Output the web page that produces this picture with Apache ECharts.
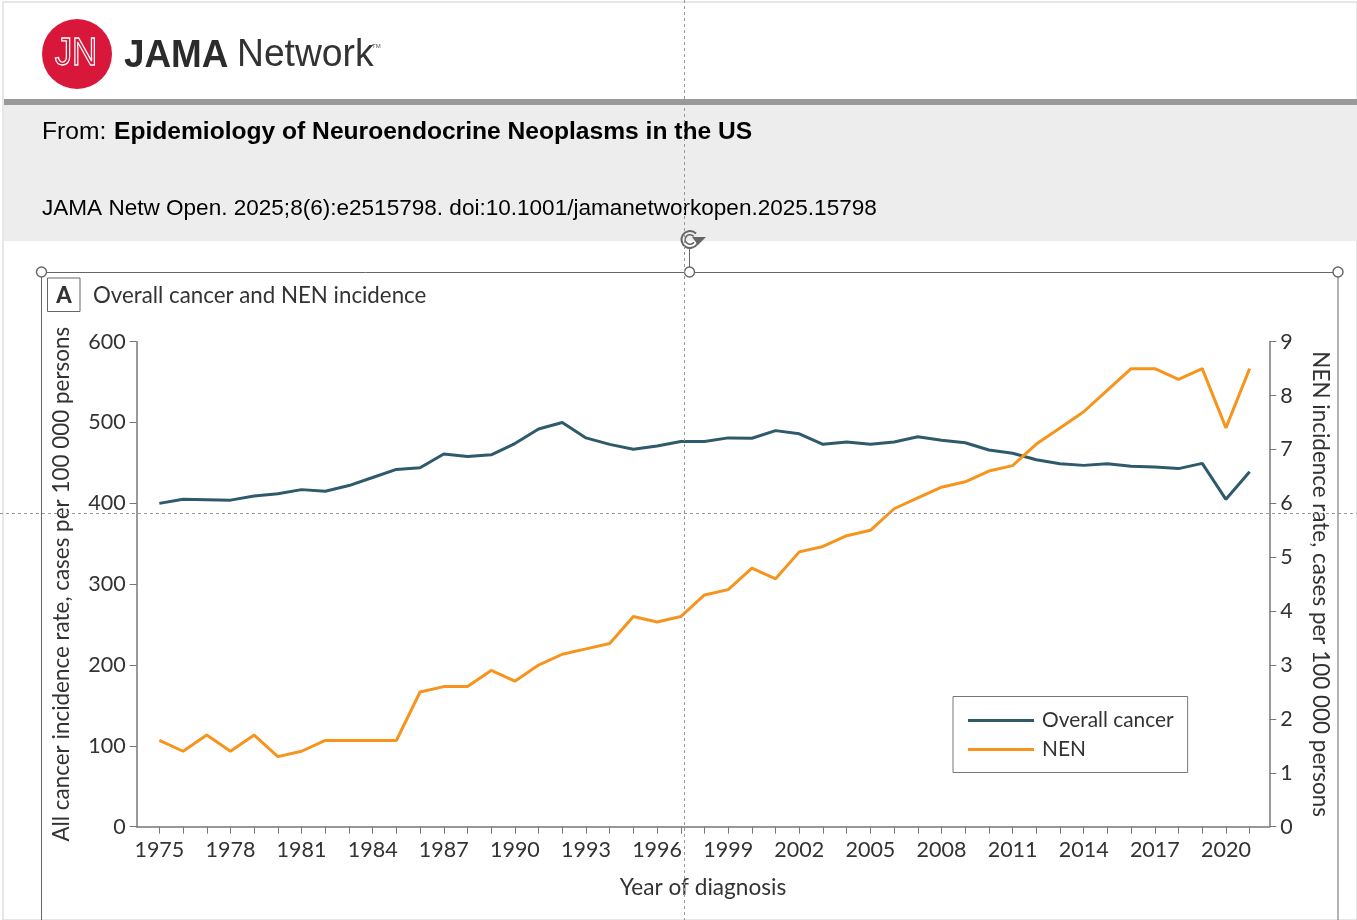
<!DOCTYPE html>
<html><head><meta charset="utf-8">
<style>html,body{margin:0;padding:0;background:#fff}#c{width:1357px;height:920px}</style>
<script src="https://cdn.jsdelivr.net/npm/echarts@6/dist/echarts.min.js"></script>
</head><body><div id="c"></div>
<script>
const years=[1975,1976,1977,1978,1979,1980,1981,1982,1983,1984,1985,1986,1987,1988,1989,1990,1991,1992,1993,1994,1995,1996,1997,1998,1999,2000,2001,2002,2003,2004,2005,2006,2007,2008,2009,2010,2011,2012,2013,2014,2015,2016,2017,2018,2019,2020,2021];
const overallCancer=[400,405,404.5,404,409,412,417,415,422,432,442,444,461,458,460,474,492,500,481,473,467,471,476.5,476.5,481,480.5,490,486,473,476,473,476,482.5,478,475,466,462,454,449,447,449,446,445,443,449.5,405,439];
const nen=[1.6,1.4,1.7,1.4,1.7,1.3,1.4,1.6,1.6,1.6,1.6,2.5,2.6,2.6,2.9,2.7,3.0,3.2,3.3,3.4,3.9,3.8,3.9,4.3,4.4,4.8,4.6,5.1,5.2,5.4,5.5,5.9,6.1,6.3,6.4,6.6,6.7,7.1,7.4,7.7,8.1,8.5,8.5,8.3,8.5,7.4,8.5];
const yearLabels=[1975,1978,1981,1984,1987,1990,1993,1996,1999,2002,2005,2008,2011,2014,2017,2020];
const chartFont='Lato';
const ink='#333333', axisGray='#777777';
const sans='"Liberation Sans"';

const graphics=[
 {type:'rect',shape:{x:3,y:2,width:1354,height:918},style:{fill:'none',stroke:'#cfcfcf',lineWidth:1},z:1},
 {type:'circle',shape:{cx:77,cy:54,r:35},style:{fill:'#d9173a'},z:2},
 {type:'text',x:76,y:55,scaleX:0.92,originX:0,style:{text:'JN',font:'38px '+sans,fill:'none',stroke:'#ffffff',lineWidth:1.3,align:'center',verticalAlign:'middle'},z:3},
 {type:'text',x:124,y:56,scaleX:0.945,style:{text:'JAMA',font:'bold 39px '+sans,fill:'#2b2b2b',verticalAlign:'middle'},z:3},
 {type:'text',x:237,y:56,scaleX:0.98,style:{text:'Network',font:'38px '+sans,fill:'#333',verticalAlign:'middle'},z:3},
 {type:'text',x:372,y:46,style:{text:'TM',font:'6px '+sans,fill:'#555',verticalAlign:'middle'},z:3},
 {type:'rect',shape:{x:4,y:99,width:1353,height:6},style:{fill:'#999999'},z:2},
 {type:'rect',shape:{x:4,y:105,width:1353,height:136},style:{fill:'#ededed'},z:2},
 {type:'text',x:42,y:132,style:{text:'From: ',font:'24.6px '+sans,fill:'#000',verticalAlign:'middle'},z:3},
 {type:'text',x:114,y:132,style:{text:'Epidemiology of Neuroendocrine Neoplasms in the US',font:'bold 24.6px '+sans,fill:'#000',verticalAlign:'middle'},z:3},
 {type:'text',x:42,y:209,style:{text:'JAMA Netw Open. 2025;8(6):e2515798. doi:10.1001/jamanetworkopen.2025.15798',font:'22.55px '+sans,fill:'#000',verticalAlign:'middle'},z:3},
 {type:'line',shape:{x1:41.5,y1:272.5,x2:1338,y2:272.5},style:{stroke:'#666',lineWidth:1},z:4},
 {type:'line',shape:{x1:41.5,y1:272,x2:41.5,y2:920},style:{stroke:'#666',lineWidth:1},z:4},
 {type:'line',shape:{x1:1338,y1:272,x2:1338,y2:920},style:{stroke:'#666',lineWidth:1},z:4},
 {type:'line',shape:{x1:689.5,y1:248,x2:689.5,y2:272},style:{stroke:'#666',lineWidth:1},z:4},
 {type:'circle',shape:{cx:41.5,cy:272,r:5},style:{fill:'#fff',stroke:'#666',lineWidth:1.4},z:5},
 {type:'circle',shape:{cx:689.5,cy:272,r:5},style:{fill:'#fff',stroke:'#666',lineWidth:1.4},z:5},
 {type:'circle',shape:{cx:1338,cy:272,r:5},style:{fill:'#fff',stroke:'#666',lineWidth:1.4},z:5},
 {type:'arc',shape:{cx:690,cy:239.5,r:8.5,startAngle:-0.2,endAngle:5.5},style:{fill:'none',stroke:'#666',lineWidth:2},z:5},
 {type:'arc',shape:{cx:690,cy:239.5,r:4.8,startAngle:0.6,endAngle:5.6},style:{fill:'none',stroke:'#666',lineWidth:1.6},z:5},
 {type:'polygon',shape:{points:[[692,237],[706,237],[698,245]]},style:{fill:'#666'},z:5},
 {type:'rect',shape:{x:47.5,y:278,width:32.5,height:33.5},style:{fill:'#fff',stroke:'#666',lineWidth:1},z:4},
 {type:'text',x:64,y:295.5,style:{text:'A',font:'900 22px '+chartFont,fill:ink,align:'center',verticalAlign:'middle'},z:5},
 {type:'text',x:93,y:296,style:{text:'Overall cancer and NEN incidence',font:'22.3px '+chartFont,fill:ink,verticalAlign:'middle'},z:5},
 {type:'line',shape:{x1:684.5,y1:0,x2:684.5,y2:920},style:{stroke:'#999',lineWidth:1,lineDash:[3,3]},z:20},
 {type:'line',shape:{x1:0,y1:513.5,x2:1357,y2:513.5},style:{stroke:'#999',lineWidth:1,lineDash:[3,3]},z:20}
];

const nameTxt={color:ink,fontFamily:chartFont,fontSize:22.45};
const chart=echarts.init(document.getElementById('c'),null,{renderer:'canvas'});
chart.setOption({
 animation:false,
 backgroundColor:'#fff',
 textStyle:{fontFamily:chartFont},
 graphic:graphics,
 grid:{left:136.6,top:341.7,width:1132.7,height:485,containLabel:false},
 legend:{left:953,top:696.5,orient:'vertical',itemWidth:66,itemHeight:3,itemGap:8,
   padding:[13.5,14,12.5,15],borderColor:'#777',borderWidth:1,backgroundColor:'#fff',
   icon:'rect',textStyle:{color:ink,fontFamily:chartFont,fontSize:20.9,padding:[1,0,0,3]},
   data:['Overall cancer','NEN']},
 xAxis:{type:'value',min:1974.04,max:2021.83,name:'Year of diagnosis',nameLocation:'middle',nameGap:50,
   nameTextStyle:{color:ink,fontFamily:chartFont,fontSize:22.6},splitLine:{show:false},
   axisLine:{show:true,lineStyle:{color:axisGray,width:1.5}},
   axisTick:{show:true,length:7,lineStyle:{color:axisGray,width:1},customValues:years},
   axisLabel:{color:ink,fontFamily:chartFont,fontSize:21.5,margin:12,customValues:yearLabels,formatter:v=>String(v),hideOverlap:false}},
 yAxis:[
  {type:'value',min:0,max:600,interval:100,name:'All cancer incidence rate, cases per 100 000 persons',nameLocation:'middle',nameRotate:90,nameGap:64,
   nameTextStyle:nameTxt,splitLine:{show:false},
   axisLine:{show:true,lineStyle:{color:axisGray,width:1.5}},
   axisTick:{show:true,length:7,lineStyle:{color:axisGray,width:1}},
   axisLabel:{color:ink,fontFamily:chartFont,fontSize:21.5,margin:11,padding:[2,0,0,0]}},
  {type:'value',position:'right',min:0,max:9,interval:1,name:'NEN incidence rate, cases per 100 000 persons',nameLocation:'middle',nameRotate:-90,nameGap:40,
   nameTextStyle:nameTxt,splitLine:{show:false},
   axisLine:{show:true,lineStyle:{color:axisGray,width:1.5}},
   axisTick:{show:true,length:7,lineStyle:{color:axisGray,width:1}},
   axisLabel:{color:ink,fontFamily:chartFont,fontSize:21.5,margin:11,padding:[2,0,0,0]}}
 ],
 series:[
  {name:'Overall cancer',type:'line',yAxisIndex:0,symbol:'none',smooth:false,z:3,
   itemStyle:{color:'#2f5a6b'},lineStyle:{color:'#2f5a6b',width:3},data:years.map((y,i)=>[y,overallCancer[i]])},
  {name:'NEN',type:'line',yAxisIndex:1,symbol:'none',smooth:false,z:4,
   itemStyle:{color:'#f7941d'},lineStyle:{color:'#f7941d',width:3},data:years.map((y,i)=>[y,nen[i]])}
 ]
});
</script></body></html>
